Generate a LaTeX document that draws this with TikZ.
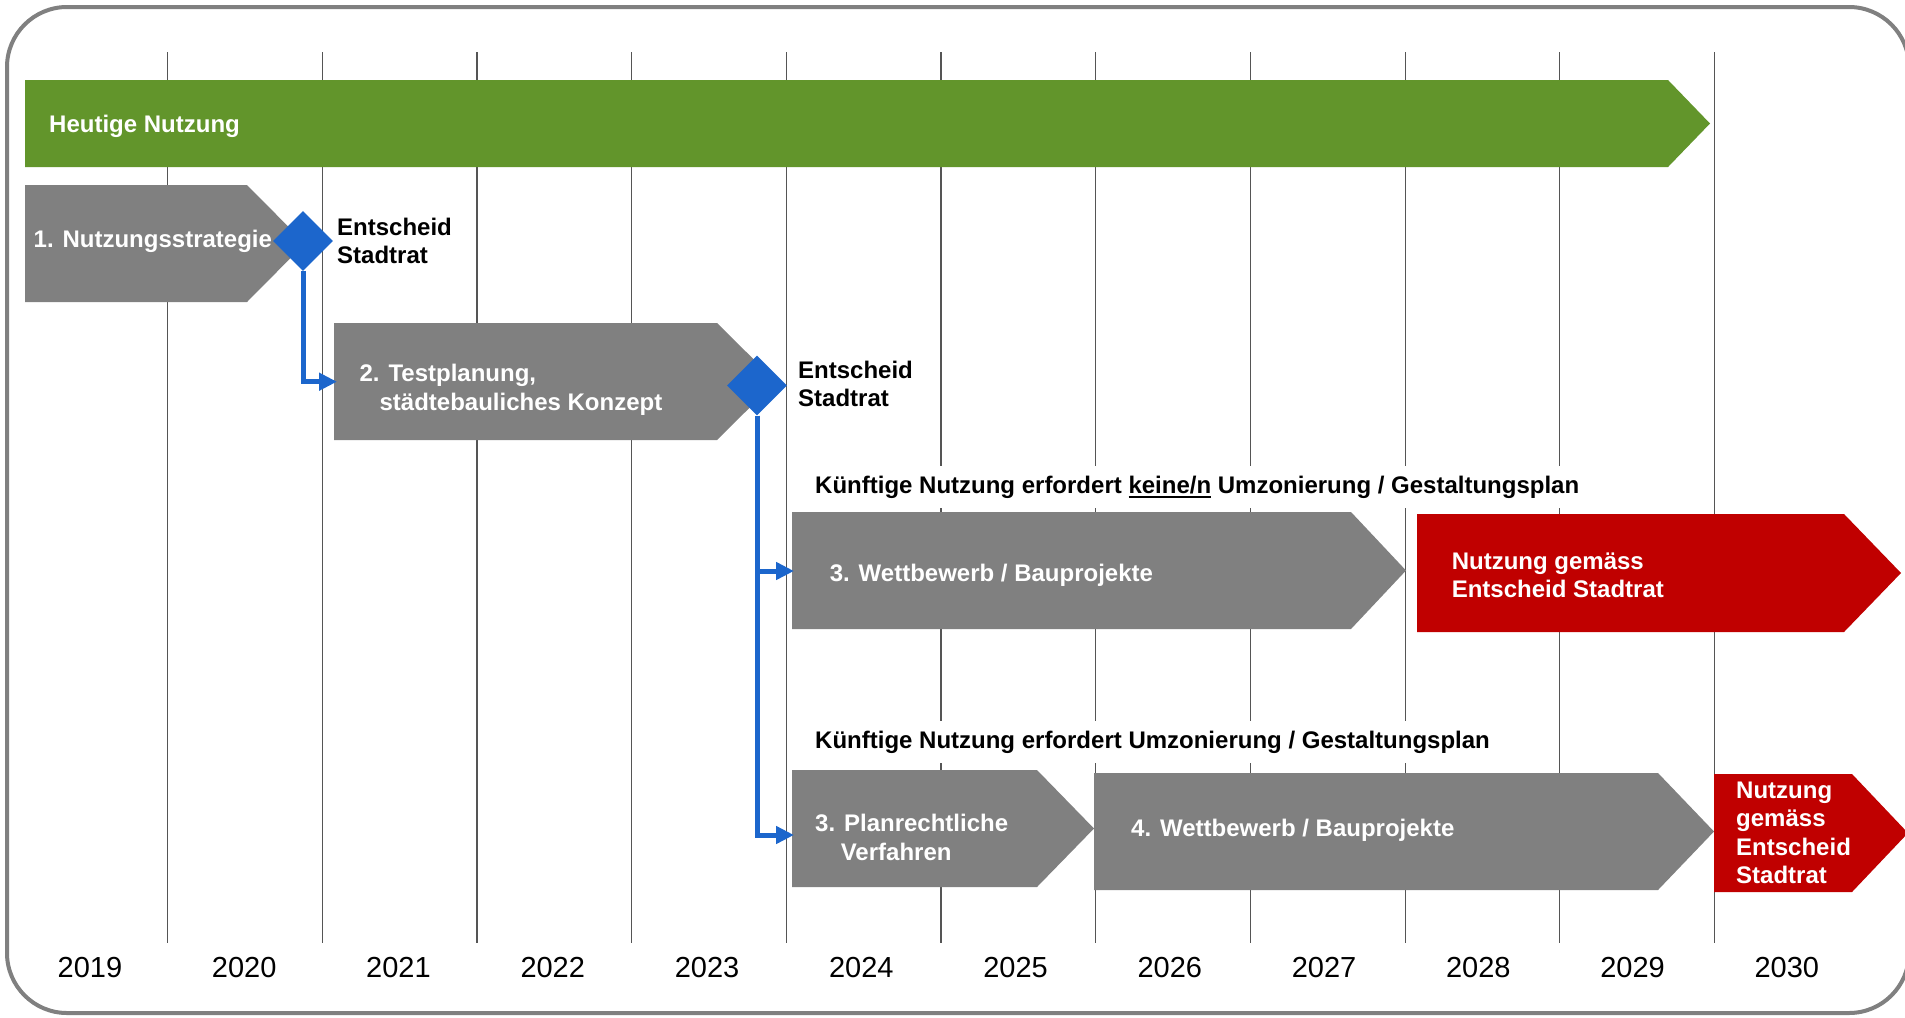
\documentclass[tikz,border=0pt]{standalone}
\usepackage{fontspec}
\setmainfont{Liberation Sans}
\usetikzlibrary{shapes.geometric,arrows.meta}
\definecolor{barGreen}{RGB}{98,149,43}
\definecolor{boxGray}{RGB}{128,128,128}
\definecolor{decRed}{RGB}{192,0,0}
\definecolor{decBlue}{RGB}{28,102,204}
\definecolor{frameGray}{RGB}{128,128,128}
\definecolor{gridGray}{RGB}{85,85,85}
\newcommand\mylines[2]{\vtop{\hbox{#1}\hbox{#2}}}
\newcommand\uln[1]{\setbox0\hbox{#1}\rlap{\rule[-5pt]{\wd0}{2pt}}\box0\relax}
\newcommand\pent[6]{\fill[#1] (#2,#3) -- (#4,#3) -- (#5,{(#3+#6)/2}) -- (#4,#6) -- (#2,#6) -- cycle;}
\begin{document}
\begin{tikzpicture}[x=1pt,y=-1pt,
  lbl/.style={font=\fontsize{24}{28.5}\selectfont\bfseries, inner sep=0pt, anchor=base west},
  wlbl/.style={lbl, text=white},
  year/.style={font=\fontsize{29}{34}\selectfont, inner sep=0pt, anchor=base},
  gridline/.style={draw=gridGray, line width=1.2pt},
  conn/.style={draw=decBlue, line width=5pt, -{Triangle[length=18pt,width=17pt]}},
  dec/.style={diamond, fill=decBlue, minimum width=60pt, minimum height=60pt, inner sep=0pt},
  hdr/.style={lbl, fill=white, inner xsep=6pt, inner ysep=10pt}
]
\useasboundingbox (0,0) rectangle (1905,1017);
\fill[white] (0,0) rectangle (1905,1017);
\draw[frameGray, line width=4pt, rounded corners=60pt] (7,7) rectangle (1909,1013);

% grid
\foreach \i in {0,...,10}
  \draw[gridline] ({167.5+154.7*\i},52) -- ({167.5+154.7*\i},943);

% years
\foreach \y [count=\i from 0] in {2019,2020,2021,2022,2023,2024,2025,2026,2027,2028,2029,2030}
  \node[year] (y\y) at ({90+154.25*\i},977) {\y};

% bars
\pent{barGreen}{25}{80}{1668}{1710}{167}
\pent{boxGray}{25}{185}{247}{305}{302}
\pent{boxGray}{334}{323}{717}{776}{440}
\pent{boxGray}{792}{512}{1351}{1406}{629}
\pent{decRed}{1417}{514}{1844}{1901}{632}
\pent{boxGray}{792}{770}{1037}{1094}{887}
\pent{boxGray}{1094}{773}{1658}{1714}{890}
\pent{decRed}{1714}{774}{1852}{1908}{892}

% headers
\node[hdr] (h1) at (809,493.3) {Künftige Nutzung erfordert \uln{keine/n} Umzonierung / Gestaltungsplan};
\node[hdr] (h2) at (809,748.3) {Künftige Nutzung erfordert Umzonierung / Gestaltungsplan};

% connector targets
\coordinate (b2in) at (337,381.7);
\coordinate (b3in) at (794,571);
\coordinate (b4in) at (794,835);

% decisions
\node[dec] (d1) at (303,241) {};
\node[dec] (d2) at (757,385.5) {};

\draw[conn] (d1.south) |- (b2in);
\draw[conn] (d2.south) |- (b3in);
\draw[conn] (d2.south) |- (b4in);

% texts
\node[wlbl] (tHeute) at (49,132) {Heutige Nutzung};
\node[wlbl] (t1) at (33.5,247) {1. Nutzungsstrategie};
\node[lbl] (e1) at (337,235) {\mylines{Entscheid}{Stadtrat}};
\node[wlbl] (t2) at (359.4,381.7) {\mylines{2. Testplanung,}{\hspace{20pt}städtebauliches Konzept}};
\node[lbl] (e2) at (798,378) {\mylines{Entscheid}{Stadtrat}};
\node[wlbl] (t3) at (829.6,581.7) {3. Wettbewerb / Bauprojekte};
\node[wlbl] (r1) at (1451.6,569.3) {\mylines{Nutzung gemäss}{Entscheid Stadtrat}};
\node[wlbl] (t4) at (815,831.7) {\mylines{3. Planrechtliche}{\hspace{25.6pt}Verfahren}};
\node[wlbl] (t5) at (1131,836.7) {4. Wettbewerb / Bauprojekte};
\node[wlbl] (r2) at (1736,798.3) {\vtop{\hbox{Nutzung}\hbox{gemäss}\hbox{Entscheid}\hbox{Stadtrat}}};
\end{tikzpicture}
\end{document}
